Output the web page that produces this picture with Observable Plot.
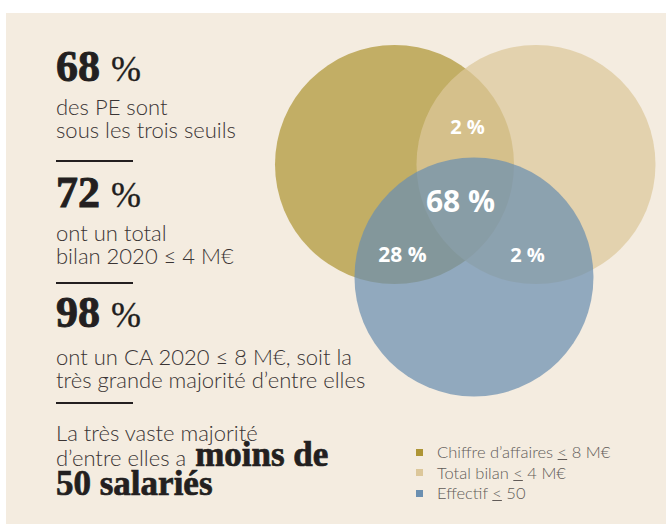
<!DOCTYPE html>
<html><head><meta charset="utf-8">
<script src="https://cdn.jsdelivr.net/npm/d3@7"></script>
<script src="https://cdn.jsdelivr.net/npm/@observablehq/plot@0.6"></script>
<style>
  html,body{margin:0;padding:0;background:#fff;}
  #wrap{position:relative;width:666px;height:524px;overflow:hidden;}
  #panel{position:absolute;left:6px;top:13px;right:0;bottom:0;background:#f4ece0;}
  #chart{position:absolute;left:0;top:0;}
  .blk{position:absolute;left:56px;color:#3a3434;font-family:"Lato Light",Lato,sans-serif;font-weight:300;font-size:22px;line-height:23px;white-space:nowrap;}
  .big{font-family:"Liberation Serif",serif;font-weight:700;color:#231f20;font-size:44px;line-height:44px;-webkit-text-stroke:0.9px #231f20;}
  .big .pc{font-size:36px;font-weight:400;-webkit-text-stroke:0.3px #231f20;}
  .rule{position:absolute;left:56px;width:77px;height:2px;background:#231f20;}
  .serifb{font-family:"Liberation Serif",serif;font-weight:700;color:#231f20;font-size:35px;line-height:23px;-webkit-text-stroke:0.7px #231f20;}
  #legend{position:absolute;left:416px;top:442px;font-family:"Lato Light",Lato,sans-serif;font-weight:300;font-size:16.5px;color:#615b58;}
  #legend .row{display:flex;align-items:center;height:20.5px;}
  #legend .sw{width:7px;height:7px;margin-right:14px;}
</style>
</head><body>
<div id="wrap">
  <div id="panel"></div>
  <div id="chart"></div>
  <div id="text"></div>
  <div id="legend"></div>
</div>
<script>
// ---- data ----
const sets = ["Chiffre d’affaires ≤ 8 M€", "Total bilan ≤ 4 M€", "Effectif ≤ 50"];
const setColors = ["#ae9535", "#dcc79a", "#6b8fb0"];
const regionNames = ["CA ∩ Bilan", "CA ∩ Bilan ∩ Effectif", "CA ∩ Effectif", "Bilan ∩ Effectif"];
const regionValues = [2, 68, 28, 2];
const headlineValues = [68, 72, 98];
const headlineCaptions = [
  ["des PE sont", "sous les trois seuils"],
  ["ont un total", "bilan 2020 ≤ 4 M€"],
  ["ont un CA 2020 ≤ 8 M€, soit la", "très grande majorité d’entre elles"]
];

// ---- layout (Venn geometry in circle-radius units) ----
const circleCenters = [[0, 0], [1.184, 0], [0.665, 0.941]];
const regionLabelPos = [[0.611, -0.31], [0.552, 0.318], [0.067, 0.762], [1.113, 0.762]];
const regionFontSize = [20, 30, 21, 20];
const R = 119.5, cx0 = 394, cy0 = 164, W = 666, H = 524;

const circles = sets.map((s, i) => ({set: s, color: setColors[i], x: circleCenters[i][0], y: circleCenters[i][1]}));
const labels = regionValues.map((v, i) => ({name: regionNames[i], text: `${v} %`, x: regionLabelPos[i][0], y: regionLabelPos[i][1], fs: regionFontSize[i]}));

const plot = Plot.plot({
  width: W, height: H, margin: 0,
  style: {background: "transparent", overflow: "visible"},
  x: {domain: [-cx0 / R, (W - cx0) / R], range: [0, W], axis: null},
  y: {domain: [-cy0 / R, (H - cy0) / R], range: [0, H], axis: null},
  marks: [
    Plot.dot(circles, {x: "x", y: "y", r: R, fill: "color", fillOpacity: 0.72, stroke: null}),
    ...labels.map(l => Plot.text([l], {x: "x", y: "y", text: "text", fill: "white", fontSize: l.fs, fontWeight: 700, fontFamily: "'Open Sans', sans-serif"}))
  ]
});
document.getElementById("chart").appendChild(plot);

// ---- left text ----
const tops = [[45, 95], [171, 221], [291, 345]];
const ruleY = [160, 282, 402];
let html = "";
headlineValues.forEach((v, i) => {
  html += `<div class="blk big" style="top:${tops[i][0]}px">${v} <span class="pc">%</span></div>`;
  html += `<div class="blk" style="top:${tops[i][1]}px">${headlineCaptions[i].join("<br>")}</div>`;
});
ruleY.forEach(y => html += `<div class="rule" style="top:${y}px"></div>`);
html += `<div class="blk" style="top:421px">La très vaste majorité</div>`;
html += `<div class="blk" style="top:443px">d’entre elles a <span class="serifb" style="margin-left:3px">moins de</span></div>`;
html += `<div class="blk" style="top:472px"><span class="serifb">50 salariés</span></div>`;
document.getElementById("text").innerHTML = html;

// ---- legend ----
document.getElementById("legend").innerHTML = sets.map((s, i) => {
  const t = s.replace("≤", '<span style="text-decoration:underline">&lt;</span>');
  return `<div class="row"><div class="sw" style="background:${setColors[i]}"></div><span>${t}</span></div>`;
}).join("");
</script>
</body></html>
